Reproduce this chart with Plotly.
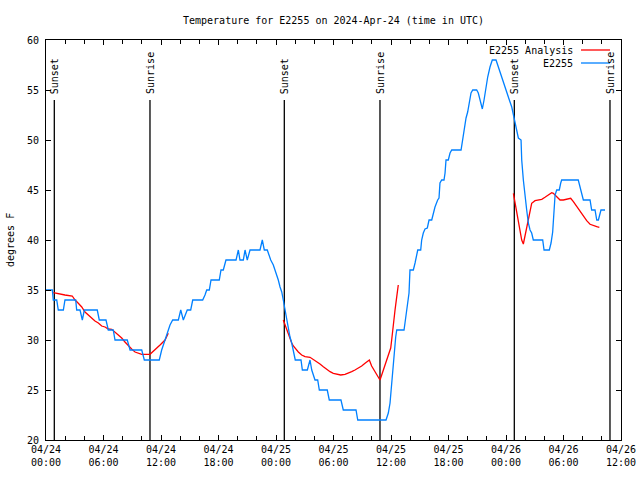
import pandas as pd
import plotly.graph_objects as go

# ---- data (hours after 2024-04-24 00:00 UTC, degrees F) ----
base_time = "2024-04-24 00:00"

obs_hours = [0, 0.66, 0.76, 1.12, 1.28, 1.81, 1.98, 3.10, 3.20, 3.55, 3.79, 4.00, 5.35, 5.56,
             6.26, 6.50, 7.02, 7.20, 8.48, 8.77, 9.99, 10.26, 11.82, 12.07, 12.42, 12.76, 12.94,
             13.22, 13.81, 14.06, 14.33, 14.74, 15.10, 15.31, 16.35, 16.59, 16.77, 17.04, 17.22,
             18.08, 18.26, 18.50, 18.78, 19.83, 20.07, 20.24, 20.59, 20.77, 21.00, 21.29, 22.33,
             22.57, 22.78, 23.09, 23.45, 23.72, 23.90, 24.07, 24.24, 24.42, 24.60, 24.76, 24.94,
             25.12, 25.28, 25.46, 25.64, 25.81, 26.01, 26.61, 26.75, 27.27, 27.55, 27.73, 27.89,
             28.07, 28.35, 28.52, 29.35, 29.56, 30.78, 31.02, 32.35, 32.53, 35.48, 35.72, 35.90,
             36.07, 36.24, 36.35, 36.49, 36.60, 37.36, 37.46, 37.64, 37.74, 37.88, 37.98, 38.33,
             38.51, 38.68, 38.79, 39.10, 39.20, 39.37, 39.55, 39.79, 39.97, 40.25, 40.42, 40.59,
             40.87, 41.01, 41.11, 41.29, 41.53, 41.64, 41.74, 41.98, 42.16, 42.34, 43.31, 43.48,
             43.65, 43.83, 44.00, 44.17, 44.35, 44.53, 44.94, 45.11, 45.36, 45.53, 45.71, 45.91,
             46.09, 46.33, 46.57, 46.96, 47.13, 47.38, 47.66, 47.90, 48.14, 48.35, 48.60, 48.77,
             48.94, 49.12, 49.29, 49.57, 49.64, 49.81, 49.98, 50.16, 50.33, 50.51, 50.68, 50.85,
             51.83, 51.97, 52.52, 52.70, 52.87, 53.01, 53.12, 53.29, 53.56, 53.71, 53.81, 55.54,
             55.72, 55.90, 56.07, 56.77, 56.94, 57.29, 57.47, 57.64, 57.91, 58.33]
obs_temps = [35, 35, 34, 34, 33, 33, 34, 34, 33, 33, 32, 33, 33, 32,
             32, 31, 31, 30, 30, 29, 29, 28, 28, 29, 30, 31, 31.5,
             32, 32, 33, 32, 33, 33, 34, 34, 34.5, 35, 35, 36,
             36, 37, 37, 38, 38, 39, 38, 38, 39, 38, 39, 39,
             40, 39, 39, 38, 37.5, 37, 36.3, 36, 35.3, 34.8, 34, 33,
             32.3, 31.3, 30.3, 29.7, 28.8, 28, 28, 27, 27, 28, 27, 26.5,
             26, 26, 25, 25, 24, 24, 23, 23, 22, 22, 22.7, 23.7,
             25.7, 27.3, 29, 30.3, 31, 31, 31.7, 33, 33.7, 34.7, 37, 37,
             37.7, 38.7, 39, 39, 40, 40.7, 41.1, 41.2, 42, 42, 42.7, 43.3,
             44, 44.2, 45.7, 46, 46, 46.7, 48, 48, 48.7, 49, 49, 50,
             51.3, 52.2, 52.8, 53.8, 54.7, 55, 55, 54.7, 53.8, 53.1, 54, 55.3,
             56.3, 57.3, 58, 58, 57.5, 56.7, 55.8, 55.2, 54.5, 54, 53.3, 52.5,
             51.5, 51, 50.2, 50, 48, 46, 44.3, 43, 41.7, 41, 40.7, 40,
             40, 39, 39, 39.7, 40.8, 43, 44.5, 45, 45, 45.7, 46, 46,
             45.3, 44.7, 44, 44, 43, 43, 42, 42, 43, 43]

ana1_hours = [0.76, 1.28, 1.98, 2.74, 3.03, 3.37, 3.73, 4.07, 4.41, 4.77, 5.11, 5.46, 5.81, 6.16,
              6.50, 6.86, 7.20, 7.54, 7.90, 8.24, 8.59, 8.94, 9.29, 9.63, 9.99, 10.85, 11.37,
              11.90, 12.42, 12.76]
ana1_temps = [34.73, 34.6, 34.5, 34.4, 34.0, 33.67, 33.3, 32.8, 32.5, 32.2, 31.9, 31.7, 31.4, 31.3,
              31.1, 31.07, 30.8, 30.5, 30.2, 29.8, 29.4, 29.1, 28.8, 28.67, 28.57, 28.57, 29.0,
              29.5, 30.0, 30.67]
ana2_hours = [24.76, 24.94, 25.12, 25.28, 25.46, 25.64, 25.81, 25.98, 26.33, 26.68, 27.03, 27.55,
              27.89, 28.25, 28.59, 28.94, 29.29, 29.64, 29.98, 30.33, 30.75, 31.20, 31.55, 31.90,
              32.24, 32.59, 32.94, 33.29, 33.74, 33.98, 34.33, 34.57, 34.85, 35.03, 35.27, 35.55,
              35.79, 35.97, 36.07, 36.24, 36.42, 36.60, 36.76]
ana2_temps = [32.0, 31.5, 31.0, 30.5, 30.2, 29.7, 29.4, 29.2, 28.8, 28.5, 28.33, 28.27,
              28.07, 27.8, 27.6, 27.33, 27.07, 26.83, 26.67, 26.57, 26.5, 26.57, 26.67, 26.83,
              27.0, 27.17, 27.4, 27.67, 28.0, 27.4, 26.83, 26.33, 26.0, 26.5, 27.17, 28.0,
              28.67, 29.2, 30.0, 31.67, 33.0, 34.33, 35.5]
ana3_hours = [48.77, 48.94, 49.12, 49.29, 49.46, 49.64, 49.81, 49.98, 50.16, 50.33, 50.51, 50.68,
              51.03, 51.37, 51.73, 52.07, 52.42, 52.77, 52.94, 53.29, 53.64, 53.98, 54.33, 54.75,
              55.03, 55.38, 55.72, 56.07, 56.42, 56.77, 57.11, 57.47, 57.74]
ana3_temps = [44.67, 43.67, 42.67, 41.67, 40.67, 40.0, 39.6, 40.33, 41.17, 42.0, 42.83, 43.67,
              43.93, 44.0, 44.07, 44.27, 44.5, 44.73, 44.67, 44.33, 44.0, 44.0, 44.1, 44.17,
              43.83, 43.33, 42.83, 42.33, 41.93, 41.57, 41.43, 41.33, 41.27]

sunset_times = ["2024-04-24 00:52", "2024-04-25 00:52", "2024-04-26 00:52"]
sunrise_times = ["2024-04-24 10:51", "2024-04-25 10:51", "2024-04-26 10:51"]

x_start = "2024-04-24 00:00"
x_end = "2024-04-26 12:00"
y_min, y_max = 20, 60
sun_line_top = 54

# ---- build ----
t0 = pd.Timestamp(base_time)


def to_times(hours):
    return [t0 + pd.Timedelta(hours=h) for h in hours]


ana_x, ana_y = [], []
for hrs, tmp in [(ana1_hours, ana1_temps), (ana2_hours, ana2_temps), (ana3_hours, ana3_temps)]:
    if ana_x:
        ana_x.append(None)
        ana_y.append(None)
    ana_x += to_times(hrs)
    ana_y += tmp

FONT = "DejaVu Sans Mono"
RED = "#ff0000"
BLUE = "#0080ff"

fig = go.Figure()
fig.add_trace(go.Scatter(x=ana_x, y=ana_y, mode="lines", line=dict(color=RED, width=1.3),
                         connectgaps=False, name="E2255 Analysis", showlegend=False))
fig.add_trace(go.Scatter(x=to_times(obs_hours), y=obs_temps, mode="lines",
                         line=dict(color=BLUE, width=1.3), name="E2255", showlegend=False))

shapes = []
annotations = []
for label, times in [("Sunset", sunset_times), ("Sunrise", sunrise_times)]:
    for t in times:
        shapes.append(dict(type="line", xref="x", yref="y", x0=t, x1=t, y0=y_min, y1=sun_line_top,
                           line=dict(color="black", width=1.3), layer="below"))
        annotations.append(dict(x=t, y=sun_line_top + 0.4, xref="x", yref="y", text=label,
                                textangle=-90, showarrow=False, xanchor="center", yanchor="bottom",
                                font=dict(family=FONT, size=10, color="black")))

# legend (gnuplot style: text then sample)
legend_items = [("E2255 Analysis", RED), ("E2255", BLUE)]
for i, (name, col) in enumerate(legend_items):
    ypx = 50 + i * 13
    yp = (440 - ypx) / 400
    annotations.append(dict(x=(575 - 46) / 575, y=yp, xref="paper", yref="paper", text=name,
                            showarrow=False, xanchor="right", yanchor="middle",
                            font=dict(family=FONT, size=10, color="black")))
    shapes.append(dict(type="line", xref="paper", yref="paper", x0=(581 - 46) / 575,
                       x1=(610 - 46) / 575, y0=yp, y1=yp, line=dict(color=col, width=1.3)))

annotations.append(dict(x=(10 - 46) / 575, y=0.5, xref="paper", yref="paper", text="degrees F",
                        textangle=-90, showarrow=False, xanchor="center", yanchor="middle",
                        font=dict(family=FONT, size=10, color="black")))

fig.update_layout(
    width=640, height=480, autosize=False,
    margin=dict(l=46, r=19, t=40, b=40, autoexpand=False),
    paper_bgcolor="white", plot_bgcolor="white",
    title=dict(text="Temperature for E2255 on 2024-Apr-24 (time in UTC)", x=0.5, xref="paper",
               y=1 - 20 / 480, yanchor="middle", font=dict(family=FONT, size=10, color="black")),
    shapes=shapes, annotations=annotations,
    showlegend=False,
)
fig.update_xaxes(
    type="date", range=[x_start, x_end], showgrid=False, zeroline=False,
    showline=True, linecolor="black", linewidth=1, mirror="allticks",
    ticks="inside", ticklen=5, tickcolor="black", tickwidth=1,
    dtick=6 * 3600 * 1000, tick0=x_start, tickformat="%m/%d<br>%H:%M",
    tickfont=dict(family=FONT, size=10, color="black"),
    minor=dict(dtick=2 * 3600 * 1000, ticks="inside", ticklen=4, tickcolor="black", showgrid=False),
)
fig.update_yaxes(
    range=[y_min, y_max], showgrid=False, zeroline=False,
    showline=True, linecolor="black", linewidth=1, mirror="allticks",
    ticks="inside", ticklen=5, tickcolor="black", tickwidth=1, dtick=5,
    ticklabelstandoff=4,
    tickfont=dict(family=FONT, size=10, color="black"),
)

fig.write_html(
    "out.html",
    config={"responsive": False, "displayModeBar": False},
    post_script="document.body.style.margin='0';document.body.style.overflow='hidden';",
)
